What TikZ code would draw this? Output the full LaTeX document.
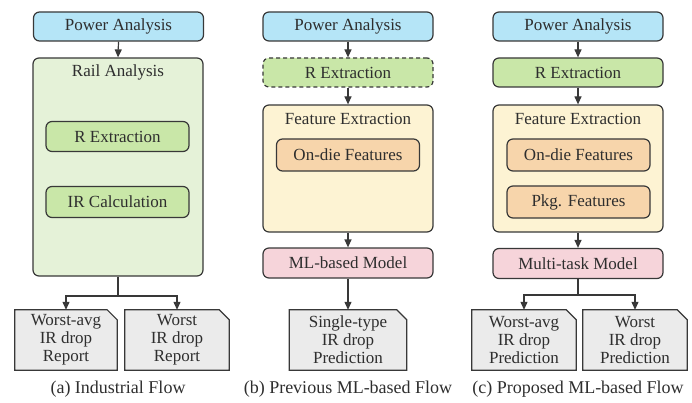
\documentclass[tikz,border=0pt]{standalone}
\usepackage{fontspec}
\setmainfont{Liberation Serif}
\newfontfamily\figserif{Liberation Serif}
\usetikzlibrary{arrows.meta,backgrounds}
\definecolor{lc}{HTML}{383838}
\definecolor{tc}{HTML}{2E2E2E}
\definecolor{pablue}{HTML}{B5E5F7}
\definecolor{railbg}{HTML}{E5F2D8}
\definecolor{greenbox}{HTML}{C9E7A8}
\definecolor{featbg}{HTML}{FDF3D3}
\definecolor{orangebox}{HTML}{F7D5AB}
\definecolor{pinkbox}{HTML}{F6D4DA}
\definecolor{docgray}{HTML}{EBEBEB}
\newcommand\mydocshape[1]{%
  \begin{pgfonlayer}{background}
  \filldraw[docline] (#1.south west) -- (#1.north west) -- ([xshift=-10pt]#1.north east)
    -- ([yshift=-10pt]#1.north east) -- (#1.south east) -- cycle;
  \end{pgfonlayer}}
\begin{document}
\begin{tikzpicture}[x=1pt,y=-1pt,
  txt/.style={text=tc,font=\figserif\fontsize{17}{18}\selectfont},
  box/.style={txt,draw=lc,line width=1.2pt,rounded corners=6pt,inner sep=0pt,minimum height=29pt},
  pabox/.style={box,fill=pablue,minimum width=170pt},
  railbox/.style={box,fill=railbg,minimum width=170pt,minimum height=218pt},
  featbox/.style={box,fill=featbg,minimum width=170pt,minimum height=127pt},
  gbox/.style={box,fill=greenbox},
  obox/.style={box,fill=orangebox,minimum width=143pt,minimum height=32pt},
  mbox/.style={box,fill=pinkbox,minimum width=170pt,minimum height=30pt},
  docbox/.style={txt,align=center,inner sep=0pt,minimum height=60pt},
  docline/.style={draw=lc,line width=1.2pt,fill=docgray,line join=miter},
  captxt/.style={text=tc,font=\figserif\fontsize{18}{20}\selectfont},
  ln/.style={draw=lc,line width=1.2pt},
  arr/.style={ln,-{Triangle[length=8pt,width=7pt]}}
]
\useasboundingbox (0,0) rectangle (692,403);

% ---------- (a) ----------
\node[pabox] (pa1) at (118.5,26.5) {Power Analysis};
\node[railbox] (rail) at (118,167) {};
\node[txt] (railt) at (118,72) {Rail Analysis};
\node[gbox,minimum width=143pt,minimum height=30pt] (rx1) at (117.5,136.5) {R Extraction};
\node[gbox,minimum width=143pt,minimum height=31pt] (irc) at (117.5,202) {IR Calculation};
\node[docbox,minimum width=102pt] (da1) at (66,340) {Worst-avg\\IR drop\\Report};
\node[docbox,minimum width=104pt] (da2) at (177,340) {Worst\\IR drop\\Report};
\mydocshape{da1}\mydocshape{da2}
\node[captxt] (capa) at (118,389) {(a) Industrial Flow};
\coordinate (ja) at (118,296);
\draw[arr] (pa1.south) -- (rail.north);
\draw[ln] (rail.south) -- (ja);
\draw[arr] (ja) -| (da1.north);
\draw[arr] (ja) -| (da2.north);

% ---------- (b) ----------
\node[pabox] (pa2) at (348,26.5) {Power Analysis};
\node[gbox,minimum width=170pt,dash pattern=on 4pt off 3pt] (rx2) at (348,72.5) {R Extraction};
\node[featbox] (feat2) at (348,168.5) {};
\node[txt] (feat2t) at (348,119) {Feature Extraction};
\node[obox] (od2) at (348,155) {On-die Features};
\node[mbox] (ml2) at (348,263) {ML-based Model};
\node[docbox,minimum width=117pt] (db) at (348,340) {Single-type\\IR drop\\Prediction};
\mydocshape{db}
\node[captxt] (capb) at (348,389) {(b) Previous ML-based Flow};
\draw[arr] (pa2.south) -- (rx2.north);
\draw[arr] (rx2.south) -- (feat2.north);
\draw[arr] (feat2.south) -- (ml2.north);
\draw[arr] (ml2.south) -- (db.north);

% ---------- (c) ----------
\node[pabox] (pa3) at (578,26.5) {Power Analysis};
\node[gbox,minimum width=170pt] (rx3) at (578,72.5) {R Extraction};
\node[featbox] (feat3) at (578,168.5) {};
\node[txt] (feat3t) at (578,119) {Feature Extraction};
\node[obox] (od3) at (578.5,155) {On-die Features};
\node[obox] (pk3) at (578.5,202) {Pkg. Features};
\node[mbox] (ml3) at (578,263.5) {Multi-task Model};
\node[docbox,minimum width=104pt] (dc1) at (524,340) {Worst-avg\\IR drop\\Prediction};
\node[docbox,minimum width=104pt] (dc2) at (635,340) {Worst\\IR drop\\Prediction};
\mydocshape{dc1}\mydocshape{dc2}
\node[captxt] (capc) at (578,389) {(c) Proposed ML-based Flow};
\coordinate (jc) at (578,295);
\draw[arr] (pa3.south) -- (rx3.north);
\draw[arr] (rx3.south) -- (feat3.north);
\draw[arr] (feat3.south) -- (ml3.north);
\draw[ln] (ml3.south) -- (jc);
\draw[arr] (jc) -| (dc1.north);
\draw[arr] (jc) -| (dc2.north);
\end{tikzpicture}
\end{document}
